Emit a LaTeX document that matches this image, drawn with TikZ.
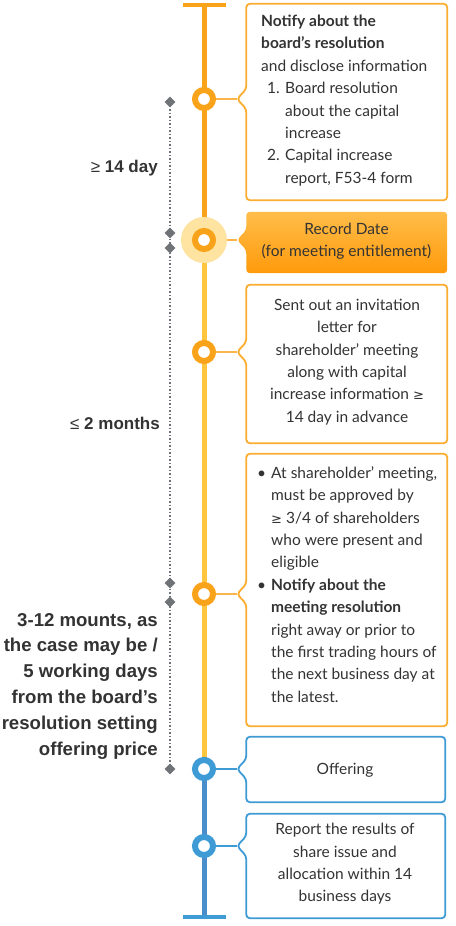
\documentclass[tikz,border=0pt]{standalone}
\usepackage{fontspec}
\setmainfont{Lato}
\newfontfamily\lblfont{Liberation Sans}
\newfontfamily\symfont{DejaVu Sans}
\usetikzlibrary{calc,shapes.geometric,shadows}
\definecolor{orng}{HTML}{F9A31B}
\definecolor{orngB}{HTML}{FBAD30}
\definecolor{orngL}{HTML}{FCB54A}
\definecolor{yel}{HTML}{FFC53D}
\definecolor{halo}{HTML}{FFE3A0}
\definecolor{blu}{HTML}{3F9BD5}
\definecolor{bluD}{HTML}{4A8DCB}
\definecolor{txtg}{HTML}{333333}
\definecolor{dgray}{HTML}{6F7377}
\definecolor{gtop}{HTML}{FFBD4A}
\definecolor{gbot}{HTML}{FF9A0B}
\pgfdeclarelayer{bg}
\pgfsetlayers{bg,main}
\newcommand\callout[3]{\draw[#3] (#1.north west) -- (#1.north east) -- (#1.south east) -- (#1.south west) -- ($(#1.west|-#2)+(0,10)$) -- (#2) -- ($(#1.west|-#2)+(0,-10)$) -- cycle;}
\newcommand\mygeq{{\symfont\fontsize{13}{13}\selectfont ≥}}
\begin{document}
\begin{tikzpicture}[x=1pt,y=-1pt,
  frame/.style={rectangle, inner sep=0, draw=none},
  ring/.style={circle, minimum size=18, inner sep=0, line width=6, draw=#1, fill=white,
    drop shadow={opacity=.2, shadow xshift=0.8pt, shadow yshift=-1.5pt}},
  conn/.style={draw=#1, line width=1.6},
  tl/.style={line width=5},
  tbar/.style={line width=4},
  dmd/.style={diamond, fill=dgray, minimum size=11, inner sep=0},
  dots/.style={draw=dgray, line width=1.5, dash pattern=on 1.5pt off 2pt},
  lbl/.style={font=\lblfont\bfseries\fontsize{17}{26}\selectfont, text=txtg, align=right, inner sep=0},
  lblbig/.style={lbl, font=\lblfont\bfseries\fontsize{18.6}{25.8}\selectfont},
  txt/.style={font=\fontsize{15.5}{22.4}\selectfont, text=txtg, inner sep=0},
  boxO/.style={draw=orngB, line width=1.8, fill=white, rounded corners=3.5pt},
  boxB/.style={draw=blu, line width=1.8, fill=white, rounded corners=3.5pt}
]
\useasboundingbox (0,0) rectangle (455,926);
\begin{pgfonlayer}{bg}
\fill[white] (0,0) rectangle (455,926);
\end{pgfonlayer}

% frames
\node[frame, minimum width=200.5, minimum height=196] (b1) at (346.75,102) {};
\node[frame, minimum width=200.5, minimum height=61] (b2) at (346.75,242.5) {};
\node[frame, minimum width=200.5, minimum height=158] (b3) at (346.75,364) {};
\node[frame, minimum width=200.5, minimum height=272] (b4) at (346.75,590) {};
\node[frame, minimum width=198.5, minimum height=65] (b5) at (345.75,769.5) {};
\node[frame, minimum width=198.5, minimum height=104] (b6) at (345.75,866) {};

% pointer tips
\coordinate (t1) at (237,99);
\coordinate (t2) at (237,240);
\coordinate (t3) at (237,352);
\coordinate (t4) at (237,594);
\coordinate (t5) at (237,769);
\coordinate (t6) at (237,846);

% timeline coordinates
\coordinate (top) at (204,5);
\coordinate (topL) at (183,5);
\coordinate (topR) at (226,5);
\coordinate (split) at (204,757);
\coordinate (bot) at (204,917);
\coordinate (botL) at (183,917);
\coordinate (botR) at (226,917);

% halo and rings
\fill[halo] (204,240) circle (23);
\node[ring=orng] (c1) at (204,99) {};
\node[ring=orng] (c2) at (204,240) {};
\node[ring=orng] (c3) at (204,352) {};
\node[ring=orng] (c4) at (204,594) {};
\node[ring=blu] (c5) at (204,769) {};
\node[ring=blu] (c6) at (204,846) {};

\begin{pgfonlayer}{bg}
\draw[tl, draw=orng] (top) -- (c2.center);
\draw[tl, draw=yel] (c2.center) -- (split);
\draw[tl, draw=bluD] (split) -- (bot);
\draw[tbar, draw=orng] (topL) -- (topR);
\draw[tbar, draw=blu] (botL) -- (botR);
\draw[conn=orngL] (c1) -- (t1);
\draw[conn=orngL] (c2) -- (t2);
\draw[conn=orngL] (c3) -- (t3);
\draw[conn=orngL] (c4) -- (t4);
\draw[conn=blu] (c5) -- (t5);
\draw[conn=blu] (c6) -- (t6);
\end{pgfonlayer}

% boxes
\callout{b1}{t1}{boxO}
\callout{b2}{t2}{rounded corners=3.5pt, draw=none, top color=gtop, bottom color=gbot}
\callout{b3}{t3}{boxO}
\callout{b4}{t4}{boxO}
\callout{b5}{t5}{boxB}
\callout{b6}{t6}{boxB}

% box texts
\node[txt, align=left, anchor=west] (bt1) at (261,100.5) {\textbf{Notify about the}\\\textbf{board’s resolution}\\and disclose information\\\hspace*{6pt}\makebox[18pt][l]{1.}Board resolution\\\hspace*{24pt}about the capital\\\hspace*{24pt}increase\\\hspace*{6pt}\makebox[18pt][l]{2.}Capital increase\\\hspace*{24pt}report, F53-4 form};
\node[txt, align=center] (bt2) at (346.5,241.5) {Record Date\\(for meeting entitlement)};
\node[txt, align=center] (bt3) at (347,362) {Sent out an invitation\\letter for\\shareholder’ meeting\\along with capital\\increase information \mygeq\\14 day in advance};
\node[txt, align=left, anchor=west] (bt4) at (255,584.5) {\makebox[16pt][l]{\hspace*{2pt}•}At shareholder’ meeting,\\\hspace*{16pt}must be approved by\\\hspace*{16pt}\mygeq\ 3/4 of shareholders\\\hspace*{16pt}who were present and\\\hspace*{16pt}eligible\\\makebox[16pt][l]{\hspace*{2pt}•}\textbf{Notify about the}\\\hspace*{16pt}\textbf{meeting resolution}\\\hspace*{16pt}right away or prior to\\\hspace*{16pt}the first trading hours of\\\hspace*{16pt}the next business day at\\\hspace*{16pt}the latest.};
\node[txt, align=center] (bt5) at (345,770) {Offering};
\node[txt, align=center] (bt6) at (345,864) {Report the results of\\share issue and\\allocation within 14\\business days};

% left scale
\node[dmd] (d1) at (170,102) {};
\node[dmd] (d2) at (170,233) {};
\node[dmd] (d3) at (170,248) {};
\node[dmd] (d4) at (170,583) {};
\node[dmd] (d5) at (170,602) {};
\node[dmd] (d6) at (170,769) {};
\begin{pgfonlayer}{bg}
\draw[dots] (d1.center) -- (d6.center);
\end{pgfonlayer}

\node[lbl, anchor=east] (l1) at (158,168) {{\mdseries ≥} 14 day};
\node[lbl, anchor=east] (l2) at (160,423) {{\mdseries ≤} 2 months};
\node[lblbig, anchor=east] (l3) at (158,686) {3-12 mounts, as\\the case may be /\\5 working days\\from the board’s\\resolution setting\\offering price};
\end{tikzpicture}
\end{document}
